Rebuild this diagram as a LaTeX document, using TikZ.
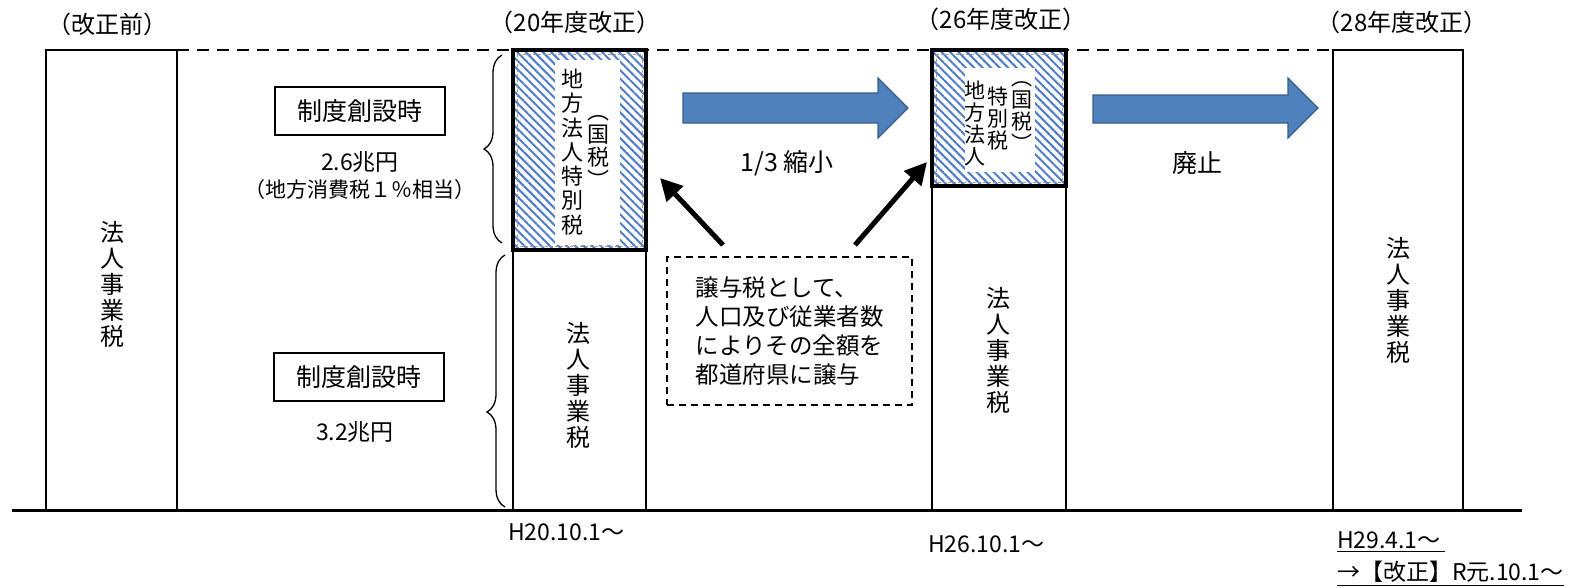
\documentclass[tikz,border=0pt]{standalone}
\usepackage{fontspec}
\setmainfont{Noto Sans CJK JP}
\usetikzlibrary{patterns.meta,decorations.pathreplacing,calc,arrows.meta}
\definecolor{stripeblue}{RGB}{80,125,200}
\definecolor{arrowfill}{RGB}{79,129,189}
\definecolor{arrowedge}{RGB}{56,93,138}
\newcommand{\jfs}[2]{\fontsize{#1}{#2}\selectfont}
\begin{document}
\begin{tikzpicture}[x=1pt,y=-1pt,
  every node/.style={inner sep=0pt,outer sep=0pt,text=black},
  col/.style={draw=black,line width=2pt,fill=white},
  hatchbox/.style={draw=black,line width=3.5pt,preaction={fill=white},
    pattern={Lines[angle=-45,distance=6pt,line width=2pt]},pattern color=stripeblue},
  innerdash/.style={draw=gray!80,line width=1pt,dash pattern=on 3pt off 2pt},
  whitearea/.style={fill=white},
  vt/.style={align=center},
  topdash/.style={line width=2.5pt,dash pattern=on 12pt off 8pt},
  blockarrow/.style={fill=arrowfill,draw=arrowedge,line width=1.2pt},
  ptr/.style={line width=5pt,-{Triangle[length=22pt,width=22pt]}},
  bracestyle/.style={decorate,line width=1.3pt},
  labelbox/.style={draw=black,line width=1.3pt,minimum width=170pt,minimum height=48pt,font=\jfs{25}{28}},
  note/.style={draw=black,line width=1.5pt,dash pattern=on 7pt off 5pt,minimum width=245pt,minimum height=148pt,align=left,font=\jfs{23.5}{29}},
  title/.style={font=\jfs{24}{26}},
  datelbl/.style={font=\jfs{23}{28},anchor=west}
]
\useasboundingbox (0,0) rectangle (1576,587);

% columns
\node[col,minimum width=131pt,minimum height=460pt] (b1) at (111.5,280) {};
\node[col,minimum width=130pt,minimum height=460pt] (b28) at (1398,280) {};
\draw[topdash] (b1.north east) -- (b28.north west);
\node[col,minimum width=133pt,minimum height=260pt] (b20) at (579.5,380) {};
\node[col,minimum width=134pt,minimum height=324pt] (b26) at (999,348) {};
\node[hatchbox,minimum width=133pt,minimum height=200pt] (h20) at (579.5,150) {};
\node[hatchbox,minimum width=134pt,minimum height=136pt] (h26) at (999,118) {};
\draw[innerdash] ($(h20.north west)+(4,4)$) rectangle ($(h20.south east)+(-4,-4)$);
\draw[innerdash] ($(h26.north west)+(4,4)$) rectangle ($(h26.south east)+(-4,-4)$);
\node[whitearea,minimum width=65pt,minimum height=185pt] (w20) at (587.5,152.5) {};
\node[whitearea,minimum width=70pt,minimum height=104pt] (w26) at (1000,120) {};

% baseline
\coordinate (gl) at (12,510);
\coordinate (gr) at (1522,510);
\draw[line width=3pt] (gl) -- (gr);

% vertical texts
\node[vt,font=\jfs{24}{26}] (t1) at (112,284) {法\\人\\事\\業\\税};
\node[vt,font=\jfs{24}{26}] (t20) at (578,385) {法\\人\\事\\業\\税};
\node[vt,font=\jfs{24}{26}] (t26) at (998,350) {法\\人\\事\\業\\税};
\node[vt,font=\jfs{24}{26}] (t28) at (1398,300) {法\\人\\事\\業\\税};
\node[vt,font=\jfs{22}{24.3}] (t20a) at (572,152) {地\\方\\法\\人\\特\\別\\税};
\node[vt,font=\jfs{22}{23}] (t20b) at (598,152) {︵\\国\\税\\︶};
\node[vt,font=\jfs{21}{22}] (t26a) at (975,123) {地\\方\\法\\人};
\node[vt,font=\jfs{21}{22}] (t26b) at (998,119) {特\\別\\税};
\node[vt,font=\jfs{21}{22}] (t26c) at (1022,117) {︵\\国\\税\\︶};

% titles
\node[title] (l0) at (107,24) {（改正前）};
\node[title] (l20) at (575,22) {（20年度改正）};
\node[title] (l26) at (1001,19) {（26年度改正）};
\node[title] (l28) at (1402,22) {（28年度改正）};

% left annotations
\node[labelbox] (lb1) at (360,111) {制度創設時};
\node[font=\jfs{23}{26}] (v1) at (360,162) {2.6兆円};
\node[font=\jfs{21}{24}] (v1b) at (360,190) {（地方消費税１％相当）};
\node[labelbox] (lb2) at (359,377) {制度創設時};
\node[font=\jfs{23}{26}] (v2) at (355,432) {3.2兆円};
\draw[bracestyle,decoration={brace,amplitude=18pt,aspect=0.5}]
  ($(h20.south west)+(-11,-7)$) -- ($(h20.north west)+(-11,5)$);
\draw[bracestyle,decoration={brace,amplitude=18pt,aspect=0.377}]
  ($(b20.south west)+(-8,-3)$) -- ($(b20.north west)+(-8,5)$);

% block arrows
\filldraw[blockarrow] (683,93) -- (878,93) -- (878,78) -- (908,108) -- (878,138) -- (878,123) -- (683,123) -- cycle;
\filldraw[blockarrow] (1093,95) -- (1288,95) -- (1288,78) -- (1318,108) -- (1288,138) -- (1288,123) -- (1093,123) -- cycle;
\node[font=\jfs{25}{28}] (r1) at (787,163) {1/3 縮小};
\node[font=\jfs{25}{28}] (r2) at (1197,163) {廃止};

% note and pointers
\node[note] (nt) at (789.5,331) {譲与税として、\\人口及び従業者数\\によりその全額を\\都道府県に譲与};
\coordinate (p1s) at (723,245);
\coordinate (p1e) at (660,178);
\coordinate (p2s) at (855,245);
\coordinate (p2e) at (927,162);
\draw[ptr] (p1s) -- (p1e);
\draw[ptr] (p2s) -- (p2e);

% dates
\node[datelbl] (d20) at (508,532) {H20.10.1～};
\node[datelbl] (d26) at (928,544) {H26.10.1～};
\node[datelbl] (d29a) at (1337,540) {H29.4.1～};
\node[datelbl] (d29b) at (1337,572) {→【改正】R元.10.1～};
\draw[line width=1.5pt] ($(d29a.south west)+(0,3)$) -- ($(d29a.south east)+(4,3)$);
\draw[line width=1.5pt] ($(d29b.south west)+(0,3)$) -- ($(d29b.south east)+(0,3)$);
\end{tikzpicture}
\end{document}
